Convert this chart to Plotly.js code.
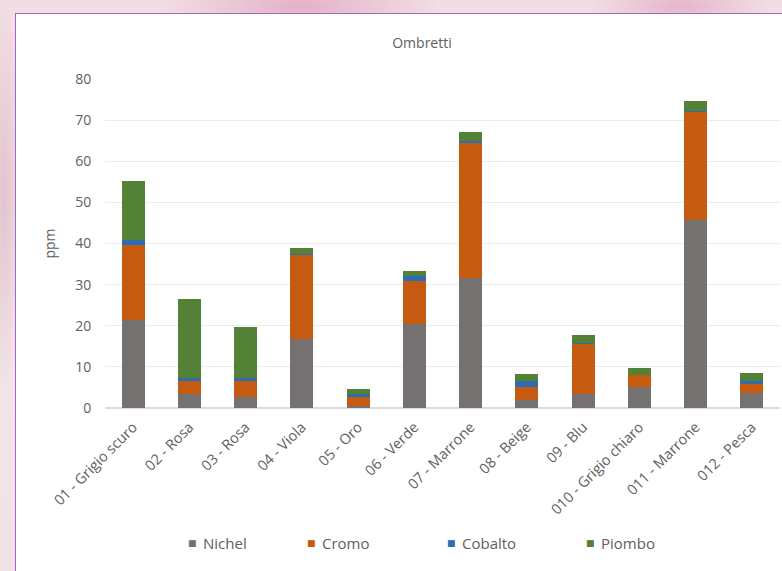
<!DOCTYPE html>
<html>
<head>
<meta charset="utf-8">
<script src="https://cdn.plot.ly/plotly-3.0.1.min.js"></script>
<style>
  html, body { margin: 0; padding: 0; }
  body {
    width: 782px; height: 571px; overflow: hidden; position: relative;
    background:
      radial-gradient(ellipse 140px 30px at 300px 6px, rgba(214,140,170,0.55), rgba(214,140,170,0) 100%),
      radial-gradient(ellipse 90px 25px at 680px 6px, rgba(214,140,170,0.5), rgba(214,140,170,0) 100%),
      radial-gradient(ellipse 20px 200px at 4px 200px, rgba(200,150,170,0.45), rgba(200,150,170,0) 100%),
      linear-gradient(180deg, #f2dde4 0%, #f5e8ec 40%, #efe3e7 100%);
  }
  #box {
    position: absolute; left: 15px; top: 13px; width: 820px; height: 620px;
    background: #ffffff; border: 1.5px solid #a563c4; box-sizing: border-box;
  }
  #chart { position: absolute; left: 0; top: 0; width: 782px; height: 571px; }
</style>
</head>
<body>
<div id="box"></div>
<div id="chart"></div>
<script>
const categories = ["01 - Grigio scuro", "02 - Rosa", "03 - Rosa", "04 - Viola", "05 - Oro", "06 - Verde",
                    "07 - Marrone", "08 - Beige", "09 - Blu", "010 - Grigio chiaro", "011 - Marrone", "012 - Pesca"];
const nichel  = [21.3, 3.4, 2.7, 16.7, 0.6, 20.4, 31.6, 2.0, 3.4, 5.0, 45.6, 3.7];
const cromo   = [18.3, 3.1, 3.8, 20.4, 2.0, 10.5, 32.8, 3.2, 12.1, 3.0, 26.3, 2.1];
const cobalto = [1.2, 0.8, 0.8, 0.3, 0.8, 1.1, 0.5, 1.3, 0.2, 0.1, 0.3, 0.8];
const piombo  = [14.4, 19.2, 12.3, 1.6, 1.2, 1.4, 2.3, 1.8, 2.1, 1.6, 2.4, 1.8];
const seriesNames = ["Nichel", "Cromo", "Cobalto", "Piombo"];
const seriesColors = ["#767171", "#C55A11", "#2E6DB4", "#538135"];
const yTicks = [0, 10, 20, 30, 40, 50, 60, 70, 80];

const seriesValues = [nichel, cromo, cobalto, piombo];
const traces = seriesValues.map((vals, i) => ({
  type: 'bar', x: categories, y: vals, name: seriesNames[i],
  marker: { color: seriesColors[i], line: { width: 0 } },
  showlegend: false, hoverinfo: 'x+y+name'
}));

const W = 782, H = 571;
const L = 105, R = 2, T = 79, B = 163;
const pw = W - L - R, ph = H - T - B;
const px = v => (v - L) / pw;
const py = v => (H - B - v) / ph;
const textColor = '#606060';

const legendSquareX = [192, 311, 451, 590];
const legendY = 543;
const annotations = [];
seriesNames.forEach((n, i) => {
  annotations.push({
    xref: 'paper', yref: 'paper', x: px(legendSquareX[i]), y: py(legendY),
    text: '■', showarrow: false, xanchor: 'center', yanchor: 'middle',
    font: { family: 'DejaVu Sans', size: 9, color: seriesColors[i] }
  });
  annotations.push({
    xref: 'paper', yref: 'paper', x: px(legendSquareX[i] + 9), y: py(legendY),
    text: n, showarrow: false, xanchor: 'left', yanchor: 'middle',
    font: { family: 'Open Sans', size: 15, color: textColor }
  });
});

const layout = {
  width: W, height: H,
  paper_bgcolor: 'rgba(0,0,0,0)', plot_bgcolor: 'rgba(0,0,0,0)',
  margin: { l: L, r: R, t: T, b: B, pad: 0 },
  barmode: 'stack', bargap: 0.59,
  font: { family: 'Open Sans', size: 13, color: textColor },
  title: { text: 'Ombretti', x: 422 / W, xanchor: 'center', y: 1 - 43 / H, yanchor: 'middle',
           font: { family: 'Open Sans', size: 14, color: textColor } },
  xaxis: {
    type: 'category', tickangle: -45, showgrid: false, zeroline: false,
    showline: false, ticks: 'outside', ticklen: 4, tickcolor: 'rgba(0,0,0,0)',
    tickfont: { family: 'Open Sans', size: 14.5, color: textColor }, automargin: false
  },
  yaxis: {
    range: [0, 80], tickvals: yTicks, ticktext: yTicks.map(String),
    showgrid: true, gridcolor: '#ececec', gridwidth: 1.2,
    zeroline: true, zerolinecolor: '#dcdcdc', zerolinewidth: 1.2,
    showline: false, ticks: 'outside', ticklen: 10, tickcolor: 'rgba(0,0,0,0)',
    tickfont: { family: 'Open Sans', size: 14, color: textColor },
    title: { text: 'ppm', standoff: 16, font: { family: 'Open Sans', size: 14, color: textColor } },
    automargin: false
  },
  annotations: annotations,
  showlegend: false
};

Plotly.newPlot('chart', traces, layout, { displayModeBar: false, staticPlot: true });
</script>
</body>
</html>
